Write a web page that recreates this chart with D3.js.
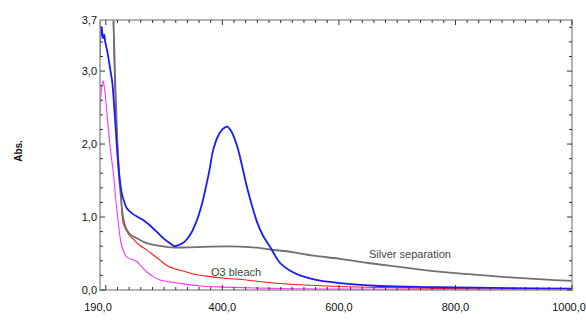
<!DOCTYPE html>
<html><head><meta charset="utf-8">
<script src="https://cdn.jsdelivr.net/npm/d3@7/dist/d3.min.js"></script>
<style>
body{margin:0;background:#fff;}
text{font-family:Arial,"Liberation Sans",sans-serif;}
</style></head>
<body><svg id="c" width="586" height="321"></svg>
<script>
// ---- data ----
const xTickValues = [190, 400, 600, 800, 1000];
const xTickLabels = ["190,0", "400,0", "600,0", "800,0", "1000,0"];
const yTickValues = [0, 1, 2, 3, 3.7];
const yTickLabels = ["0,0", "1,0", "2,0", "3,0", "3,7"];

const sampleNm  = [190,191,193,195,197,199,203,207,211,214,217,220,224,228,232,236,245,255,264,275,287,300,310,318,325,335,345,355,365,372,378,384,392,400,408,415,425,433,441,450,460,470,482,499,515,533,555,585,620,670,750,800,900,1000];
const sampleAbs = [3.2,3.5,3.6,3.45,3.5,3.4,3.25,3.05,2.85,2.55,2.2,1.85,1.5,1.3,1.2,1.12,1.05,1.0,0.96,0.89,0.80,0.70,0.64,0.60,0.615,0.66,0.76,0.93,1.18,1.42,1.65,1.91,2.1,2.2,2.24,2.18,1.98,1.73,1.45,1.18,0.92,0.74,0.59,0.37,0.27,0.20,0.15,0.11,0.08,0.055,0.04,0.035,0.025,0.02];

const silverNm  = [190,211,213.5,216,219,222,225.5,230,235,242,253,265,276,295,316,340,380,430,460,482,520,556,600,650,700,750,800,850,900,950,1000];
const silverAbs = [4.5,4.2,3.6,2.9,2.2,1.65,1.3,0.98,0.84,0.76,0.71,0.66,0.63,0.60,0.58,0.585,0.595,0.595,0.58,0.555,0.52,0.47,0.43,0.37,0.32,0.27,0.23,0.20,0.17,0.145,0.125];

const bleachNm  = [190,191,195,205,211,213,215.6,218,221.5,225.6,230,238.6,248,258.6,270,281.5,293,304,318,333,350,373,400,441,470,499,550,613,700,800,900,1000];
const bleachAbs = [3.3,3.9,4.5,4.5,4.0,3.6,2.73,2.3,1.82,1.37,0.91,0.77,0.69,0.61,0.55,0.48,0.41,0.34,0.29,0.26,0.22,0.19,0.165,0.137,0.11,0.09,0.065,0.045,0.03,0.02,0.012,0.008];

const blankNm  = [190,192,195,198,201,205,209,213,217,221,224,227,232,236,245,253,260,270,280,293,310,327,362,400,500,600,800,1000];
const blankAbs = [2.37,2.7,2.87,2.75,2.5,2.15,1.85,1.6,1.25,0.96,0.75,0.61,0.5,0.45,0.42,0.39,0.33,0.25,0.19,0.137,0.11,0.09,0.055,0.04,0.02,0.012,0.007,0.005];

const seriesNames  = ["Silver separation", "O3 bleach"];

// ---- chart ----
const svg = d3.select("#c");
const L = 100, R = 572, T = 20, B = 290;
const x = d3.scaleLinear().domain([190, 1000]).range([L, R]);
const y = d3.scaleLinear().domain([0, 3.7]).range([B, T]);

svg.append("defs").append("clipPath").attr("id","clip")
  .append("rect").attr("x",L).attr("y",T).attr("width",R-L).attr("height",B-T);

const series = [
  {nm: blankNm, abs: blankAbs, color: "#ff33ff", w: 1.1},
  {nm: bleachNm, abs: bleachAbs, color: "#ff1a1a", w: 1.1},
  {nm: silverNm, abs: silverAbs, color: "#707070", w: 1.8},
  {nm: sampleNm, abs: sampleAbs, color: "#1a1aff", w: 1.8},
];
const line = d3.line().x(d=>x(d[0])).y(d=>y(d[1])).curve(d3.curveCatmullRom.alpha(0.5));
const g = svg.append("g").attr("clip-path","url(#clip)");
series.forEach(s=>{
  g.append("path").datum(s.nm.map((v,i)=>[v,s.abs[i]]))
   .attr("d", line).attr("fill","none").attr("stroke", s.color)
   .attr("stroke-width", s.w).attr("stroke-linejoin","round");
});

// frame
svg.append("rect").attr("x",L).attr("y",T).attr("width",R-L).attr("height",B-T)
  .attr("fill","none").attr("stroke","#9a9a9a").attr("stroke-width",1.5);

// ticks
const tickCol = "#333";
const xMinor = d3.range(200, 1001, 20);
xMinor.forEach(v=>{
  const major = v % 200 === 0;
  const len = major ? 5 : 3;
  svg.append("line").attr("x1",x(v)).attr("x2",x(v)).attr("y1",B).attr("y2",B-len).attr("stroke",tickCol);
  svg.append("line").attr("x1",x(v)).attr("x2",x(v)).attr("y1",T).attr("y2",T+len).attr("stroke",tickCol);
});
const yMinor = d3.range(0, 37, 2).map(v=>v/10);
yMinor.forEach(v=>{
  const major = Math.abs(v - Math.round(v)) < 1e-9;
  const len = major ? 5 : 3;
  svg.append("line").attr("x1",L).attr("x2",L+len).attr("y1",y(v)).attr("y2",y(v)).attr("stroke",tickCol);
  svg.append("line").attr("x1",R).attr("x2",R-len).attr("y1",y(v)).attr("y2",y(v)).attr("stroke",tickCol);
});

// tick labels
xTickValues.forEach((v,i)=>{
  const dx = i===0 ? -2 : (i===xTickValues.length-1 ? -3 : 0);
  svg.append("text").attr("x", x(v) + dx).attr("y", 311).attr("text-anchor","middle")
    .attr("font-size",11).attr("fill","#111").text(xTickLabels[i]);
});
yTickValues.forEach((v,i)=>{
  svg.append("text").attr("x", 97).attr("y", y(v)).attr("dy","0.35em").attr("text-anchor","end")
    .attr("font-size",11).attr("fill","#111").text(yTickLabels[i]);
});

// axis titles
svg.append("text").attr("transform","translate(22,151) rotate(-90)").attr("text-anchor","middle")
  .attr("font-size",10).attr("font-weight","bold").attr("fill","#111").text("Abs.");
svg.append("text").attr("x",331).attr("y",328).attr("text-anchor","middle")
  .attr("font-size",11).attr("fill","#111").text("nm");

// series labels
svg.append("text").attr("x",369).attr("y",258).attr("font-size",11).attr("fill","#444").text(seriesNames[0]);
svg.append("text").attr("x",211).attr("y",276).attr("font-size",11).attr("fill","#444").text(seriesNames[1]);
</script></body></html>
